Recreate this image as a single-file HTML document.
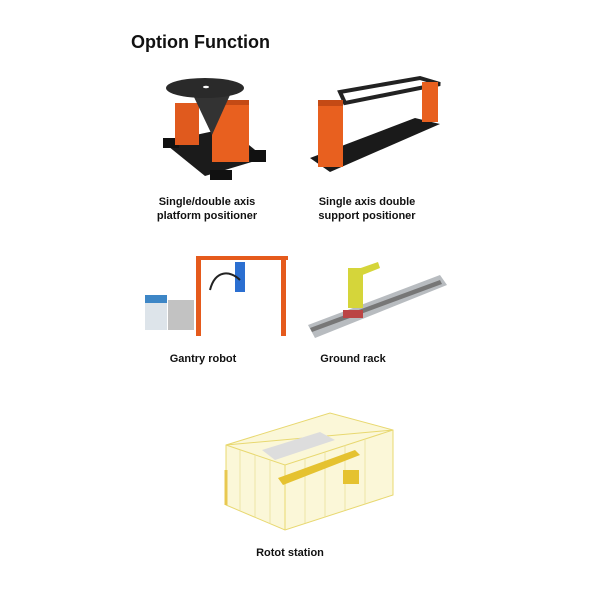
<!DOCTYPE html>
<html><head><meta charset="utf-8"><style>
html,body{margin:0;padding:0;background:#fff;width:600px;height:600px;overflow:hidden}
svg{display:block}
text{font-family:"Liberation Sans",Arial,sans-serif;font-weight:bold;fill:#111}
</style></head><body>
<svg width="600" height="600" viewBox="0 0 600 600">
<text x="131" y="48" font-size="18">Option Function</text>

<!-- positioner 1 -->
<polygon points="163,142 228,128 265,158 205,176" fill="#1b1b1b"/>
<rect x="163" y="138" width="16" height="10" fill="#111"/>
<rect x="210" y="170" width="22" height="10" fill="#111"/>
<rect x="250" y="150" width="16" height="12" fill="#111"/>
<rect x="175" y="103" width="24" height="42" fill="#e05a1e"/>
<rect x="212" y="100" width="37" height="62" fill="#e8601f"/>
<rect x="212" y="100" width="37" height="5" fill="#c44a15"/>
<polygon points="193,95 230,95 212,135" fill="#333"/>
<ellipse cx="205" cy="88" rx="39" ry="10" fill="#2a2a2a"/>
<ellipse cx="206" cy="87" rx="3" ry="1.2" fill="#fff"/>

<!-- positioner 2 -->
<polygon points="310,158 415,118 440,124 330,172" fill="#1a1a1a"/>
<polygon points="340,92 420,78 440,84 345,103" fill="none" stroke="#222" stroke-width="4"/>
<rect x="318" y="102" width="25" height="65" fill="#e8601f"/>
<rect x="318" y="100" width="25" height="6" fill="#c44a15"/>
<rect x="422" y="82" width="16" height="40" fill="#e8601f"/>

<text font-size="11" text-anchor="middle"><tspan x="207" y="205">Single/double axis</tspan><tspan x="207" y="219">platform positioner</tspan></text>
<text font-size="11" text-anchor="middle"><tspan x="367" y="205">Single axis double</tspan><tspan x="367" y="219">support positioner</tspan></text>

<!-- gantry -->
<rect x="196" y="256" width="92" height="4" fill="#e55a1c"/>
<rect x="196" y="256" width="5" height="80" fill="#e55a1c"/>
<rect x="281" y="256" width="5" height="80" fill="#e55a1c"/>
<rect x="235" y="262" width="10" height="30" fill="#2b6fd1"/>
<path d="M210,290 C215,270 230,270 240,280" stroke="#222" stroke-width="2" fill="none"/>
<rect x="145" y="295" width="22" height="35" fill="#dde4ea"/>
<rect x="145" y="295" width="22" height="8" fill="#3d86c6"/>
<rect x="168" y="300" width="26" height="30" fill="#999" opacity=".6"/>

<!-- ground rack -->
<polygon points="308,325 440,275 447,285 315,338" fill="#b8bcc0"/>
<polygon points="310,328 440,280 442,284 312,332" fill="#777"/>
<rect x="343" y="310" width="20" height="8" fill="#b44"/>
<rect x="348" y="268" width="15" height="40" fill="#d5d53a"/>
<polygon points="355,270 378,262 380,268 360,276" fill="#d5d53a"/>

<text font-size="11" text-anchor="middle" x="203" y="362">Gantry robot</text>
<text font-size="11" text-anchor="middle" x="353" y="362">Ground rack</text>

<!-- station -->
<polygon points="226,445 330,413 393,430 393,495 285,530 226,505" fill="#fbf7d8" stroke="#e8d870"/>
<polygon points="226,445 285,465 393,430" fill="none" stroke="#e8d870"/>
<line x1="285" y1="465" x2="285" y2="530" stroke="#e8d870"/>
<g stroke="#eadf9a" stroke-width="0.8">
<line x1="240" y1="450" x2="240" y2="511"/><line x1="255" y1="455" x2="255" y2="517"/><line x1="270" y1="460" x2="270" y2="524"/>
<line x1="305" y1="458" x2="305" y2="523"/><line x1="325" y1="452" x2="325" y2="517"/><line x1="345" y1="445" x2="345" y2="510"/><line x1="365" y1="439" x2="365" y2="504"/>
</g>
<polygon points="262,450 320,432 335,440 275,460" fill="#ddd"/>
<polygon points="278,478 355,450 360,455 283,485" fill="#e5c230"/>
<rect x="343" y="470" width="16" height="14" fill="#e5c230"/>
<line x1="226" y1="470" x2="226" y2="505" stroke="#e8c850" stroke-width="3"/>

<text font-size="11" text-anchor="middle" x="290" y="556">Rotot station</text>
</svg>
</body></html>
